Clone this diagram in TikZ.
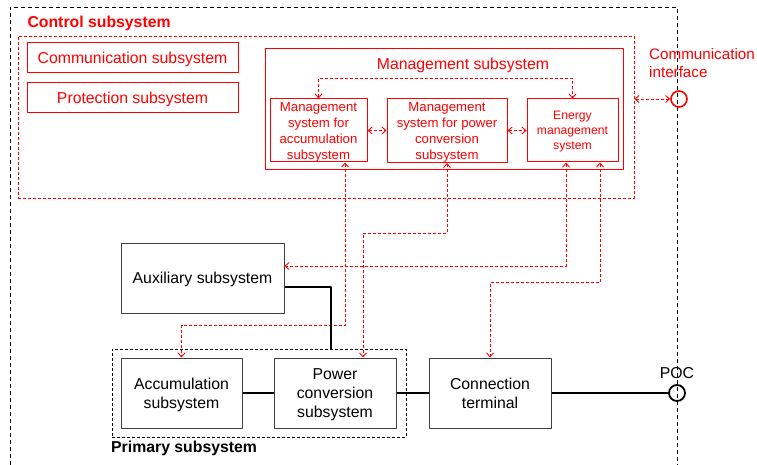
\documentclass[tikz,border=0pt]{standalone}
\usepackage{fontspec}
\setmainfont{Liberation Sans}
\usetikzlibrary{arrows.meta}
\definecolor{ctrlred}{RGB}{255,0,0}
\tikzset{
  blkbox/.style={draw=black!75, line width=1pt, inner sep=0pt, align=center, text depth=0pt},
  redbox/.style={draw=ctrlred, text=ctrlred, line width=1pt, inner sep=0pt, align=center, text depth=0pt},
  reddash/.style={draw=ctrlred, line width=0.9pt, dash pattern=on 3pt off 2pt},
  blkline/.style={draw=black, line width=1.8pt},
  big/.style={font=\fontsize{15.8}{18.8}\selectfont},
  small/.style={font=\fontsize{13.2}{16}\selectfont},
  tiny/.style={font=\fontsize{12.2}{15}\selectfont},
}
\begin{document}
\begin{tikzpicture}[x=1pt, y=-1pt, >={Straight Barb[length=4pt,width=7pt]}, line join=round, big]
		\useasboundingbox (0,0) rectangle (757,465);
		\def\bw{122} \def\bh{70} % black boxes
		% outer frame
		\draw[dash pattern=on 4pt off 3pt, line width=0.8pt] (10,465) |- (677,7) -- (677,465);
		
		% control subsystem
		\node[anchor=west, text=ctrlred, font=\fontsize{15.8}{18.8}\selectfont\bfseries] (ctrllbl) at (24,23.5) {Control subsystem};
		\node[reddash, minimum width=616pt, minimum height=162pt] (ctrl) at (326,117) {};
		\node[redbox, minimum width=211pt, minimum height=30pt] (comm) at (132.5,58) {Communication subsystem};
		\node[redbox, minimum width=211pt, minimum height=30pt] (prot) at (132.5,98) {Protection subsystem};
		\node[redbox, minimum width=358pt, minimum height=121pt] (mgmt) at (444,109.5) {};
		\node[text=ctrlred, text depth=0pt] (mgmtlbl) at (463,64) {Management subsystem};
		\node[redbox, small, minimum width=97pt, minimum height=63pt] (mA) at (318.5,130.5) {Management\\system for\\accumulation\\subsystem};
		\node[redbox, small, minimum width=120pt, minimum height=64pt] (mP) at (447,130.5) {Management\\system for power\\conversion\\subsystem};
		\node[redbox, tiny, minimum width=91pt, minimum height=63pt] (mE) at (572.5,130.5) {Energy\\management\\system};
		\node[draw=ctrlred, circle, line width=1.6pt, minimum size=16pt, inner sep=0pt] (comif) at (679,99) {};
		\node[anchor=north west, text=ctrlred, align=left, inner sep=0pt, font=\fontsize{15.2}{18.5}\selectfont] (comiflbl) at (649,48) {Communication\\interface};
		
		% primary side
		\node[blkbox, minimum width=163pt, minimum height=70pt] (aux) at (202.5,278) {Auxiliary subsystem};
		\node[draw, dash pattern=on 3pt off 2pt, line width=0.8pt, minimum width=294pt, minimum height=88pt] (prim) at (259,393) {};
		\node[anchor=north west, font=\fontsize{15.8}{18.8}\selectfont\bfseries, inner sep=0pt] (primlbl) at (111,441) {Primary subsystem};
		\node[blkbox, minimum width=121pt, minimum height=\bh pt] (acc) at (181.5,393) {Accumulation\\subsystem};
		\node[blkbox, minimum width=\bw pt, minimum height=\bh pt] (pcs) at (335,393) {Power\\conversion\\subsystem};
		\node[blkbox, minimum width=\bw pt, minimum height=\bh pt] (ct) at (490,393) {Connection\\terminal};
		\node[draw, circle, line width=1.8pt, minimum size=16pt, inner sep=0pt] (poc) at (677,393) {};
		\node[above=2pt] (poclbl) at (poc.north) {POC};
		
		% signal links
		\draw[reddash, <->] (mA.north) -- ++(0,-20) -| (mE.north);
		\draw[reddash, <->] (mA.east) -- (mP.west);
		\draw[reddash, <->] (mP.east) -- (mE.west);
		\draw[reddash, <->] (ctrl.east |- comif.west) -- (comif.west);
		\draw[reddash, <->] ([xshift=26.5pt]mA.south) -- ++(0,163) -| (acc.north);
		\draw[reddash, <->] (mP.south) -- ++(0,70) -| ([xshift=28pt]pcs.north);
		\draw[reddash, <->] ([xshift=-6.5pt]mE.south) |- ([yshift=12pt]aux.east);
		\draw[reddash, <->] ([xshift=27.5pt]mE.south) -- ++(0,120) -| (ct.north);
		
		% power links
		\draw[blkline] ([yshift=-9pt]aux.east) -| ([xshift=72pt]prim.north);
		\draw[blkline] (acc.east) -- (pcs.west);
		\draw[blkline] (pcs.east) -- (ct.west);
		\draw[blkline] (ct.east) -- (poc.west);
\end{tikzpicture}
\end{document}
